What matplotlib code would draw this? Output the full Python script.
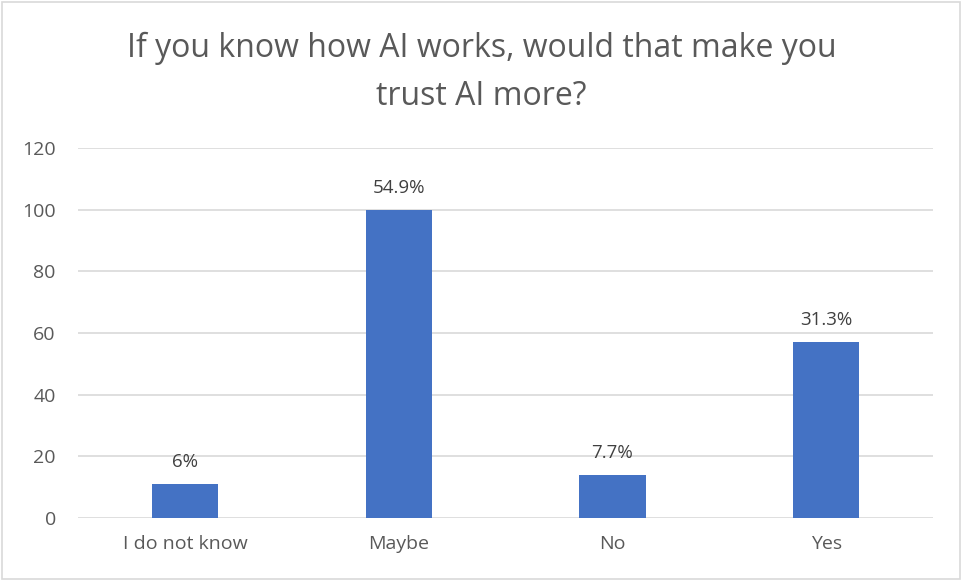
import matplotlib
matplotlib.use("Agg")
import matplotlib.pyplot as plt
import numpy as np

# survey answers (counts per option)
answers = ["I do not know", "Maybe", "No", "Yes"]
counts = [11, 100, 14, 57]
yticks = [0, 20, 40, 60, 80, 100, 120]

bar_col = "#4472C4"
txt_col = "#595959"
grid_col = "#D9D9D9"

plt.rcParams['font.family'] = ['Open Sans', 'DejaVu Sans']

fig = plt.figure(figsize=(9.63, 5.81), dpi=100)
ax = fig.add_axes([0.081, 0.1084, 0.888, 0.6368])

x = np.arange(len(answers))
bars = ax.bar(x, counts, width=0.31, color=bar_col, zorder=3)

total = sum(counts)
for b, c in zip(bars, counts):
    pct = "%.1f" % (100.0 * c / total)
    if pct.endswith(".0"):
        pct = pct[:-2]
    ax.text(b.get_x() + b.get_width() / 2, c + 4.2, pct + "%",
            ha="center", va="bottom", fontsize=13.5, color="#404040")

ax.set_ylim(0, 120)
ax.set_xlim(-0.5, len(answers) - 0.5)
ax.set_yticks(yticks)
ax.set_xticks(x)
ax.set_xticklabels(answers)
ax.yaxis.grid(True, color=grid_col, linewidth=1.2, zorder=0)
ax.tick_params(axis="both", length=0, labelsize=14, colors=txt_col)
ax.tick_params(axis="x", pad=12)
ax.tick_params(axis="y", pad=16)
for s in ax.spines.values():
    s.set_visible(False)

fig.text(0.5, 0.875, "If you know how AI works, would that make you\ntrust AI more?",
         ha="center", va="center", fontsize=23, color=txt_col, linespacing=1.6)

# thin frame round the whole chart
fig.patches.append(plt.Rectangle((0.002, 0.003), 0.995, 0.994, transform=fig.transFigure,
                                 fill=False, edgecolor="#D9D9D9", linewidth=1.2))

fig.savefig("out.png", dpi=100)
